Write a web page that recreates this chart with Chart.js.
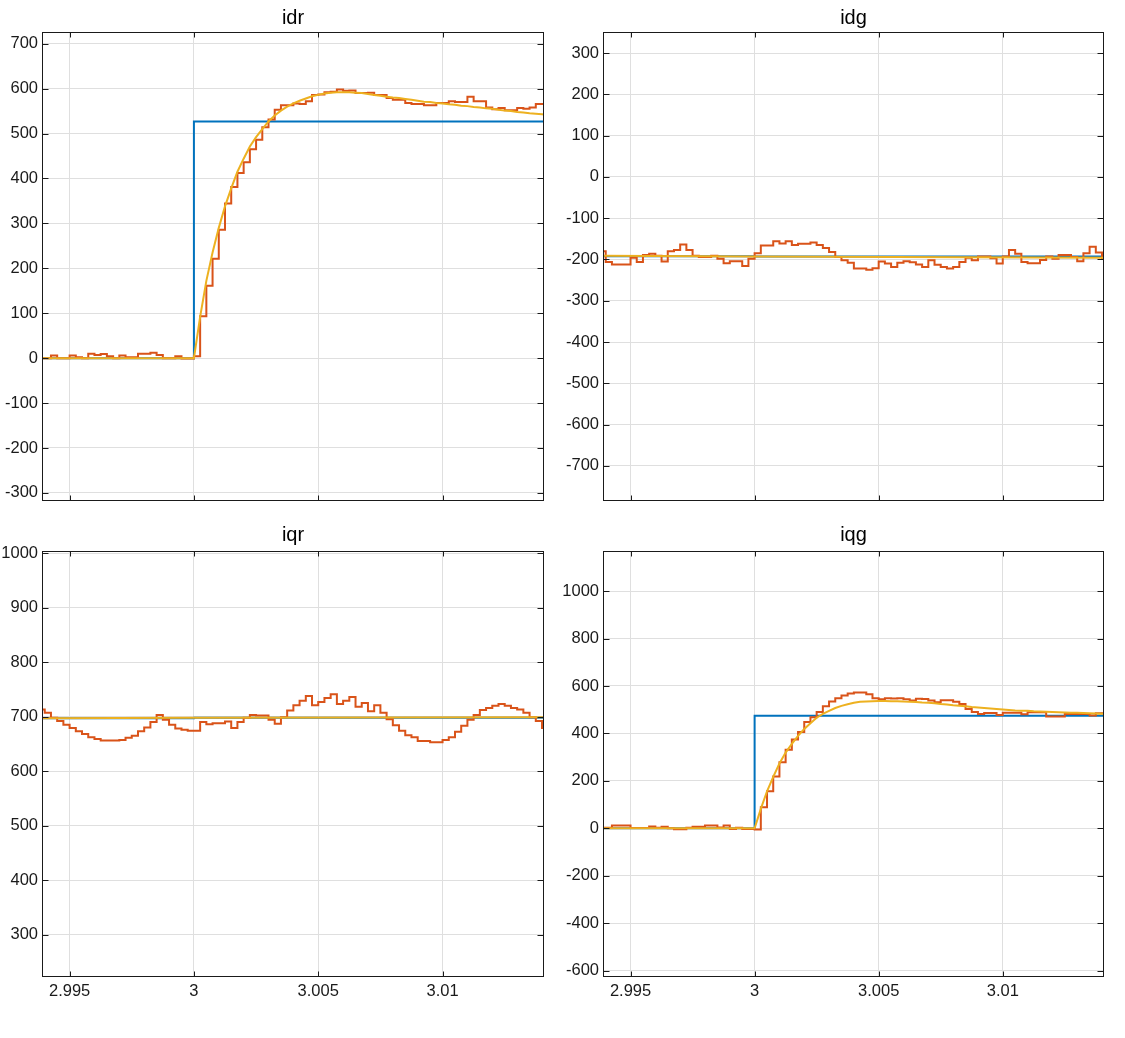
<!DOCTYPE html>
<html>
<head>
<meta charset="utf-8">
<title>idr idg iqr iqg</title>
<script src="https://cdn.jsdelivr.net/npm/chart.js@4.4.1/dist/chart.umd.min.js"></script>
<style>
html, body { margin: 0; padding: 0; background: #fff; }
#wrap { position: relative; width: 1125px; height: 1038px; }
#wrap canvas { position: absolute; }
</style>
</head>
<body>
<div id="wrap">
  <canvas id="c-idr" width="560" height="510" style="left:0;top:0;width:560px;height:510px"></canvas>
  <canvas id="c-idg" width="565" height="510" style="left:560px;top:0;width:565px;height:510px"></canvas>
  <canvas id="c-iqr" width="560" height="528" style="left:0;top:510px;width:560px;height:528px"></canvas>
  <canvas id="c-iqg" width="565" height="528" style="left:560px;top:510px;width:565px;height:528px"></canvas>
</div>
<script>
// sample instants of the measured (stair) signals, s
const tSample = [
  2.99375, 2.994, 2.99425, 2.9945, 2.99475, 2.995, 2.99525, 2.9955, 2.99575, 2.996,
  2.99625, 2.9965, 2.99675, 2.997, 2.99725, 2.9975, 2.99775, 2.998, 2.99825, 2.9985,
  2.99875, 2.999, 2.99925, 2.9995, 2.99975,
  3.0, 3.00025, 3.0005, 3.00075, 3.001, 3.00125, 3.0015, 3.00175, 3.002, 3.00225,
  3.0025, 3.00275, 3.003, 3.00325, 3.0035, 3.00375, 3.004, 3.00425, 3.0045, 3.00475,
  3.005, 3.00525, 3.0055, 3.00575, 3.006, 3.00625, 3.0065, 3.00675, 3.007, 3.00725,
  3.0075, 3.00775, 3.008, 3.00825, 3.0085, 3.00875, 3.009, 3.00925, 3.0095, 3.00975,
  3.01, 3.01025, 3.0105, 3.01075, 3.011, 3.01125, 3.0115, 3.01175, 3.012, 3.01225,
  3.0125, 3.01275, 3.013, 3.01325, 3.0135, 3.01375, 3.014, 3.01425
];
// start, step instant, end (reference lines and flat model lines)
const tEdge = [2.99375, 3.0, 3.01425];

const xMin = 2.99389;
const xMax = 3.01408;
const xTicks = [2.995, 3, 3.005, 3.01];

// idr
const idrRef = [0, 527, 527];
const idrMeas = [
  0, 0, 6, 0, 0, 6, 2, 0, 10, 7, 9, 4, 0, 6, 2, 2, 10, 10, 12, 7, 0, 0, 4, -1, -1,
  4, 93, 161, 221, 286, 344, 381, 412, 436, 465, 486, 514, 531, 553, 563,
  563, 567, 566, 572, 586, 587, 592, 593, 598, 595, 596, 590, 590, 591, 586,
  586, 579, 575, 575, 568, 566, 566, 563, 563, 568, 568, 572, 570, 570, 582,
  572, 572, 558, 554, 557, 552, 552, 557, 555, 558, 566, 566, 566
];
const idrModel = [
  0, 0, 0, 0, 0, 0, 0, 0, 0, 0, 0, 0, 0, 0, 0, 0, 0, 0, 0, 0, 0, 0, 0, 0, 0,
  0, 92, 172, 235, 290, 338, 378, 415, 444, 471, 492, 510, 527, 540, 551,
  560, 567, 573, 578, 583, 586, 589, 591, 592, 592, 592, 591, 590, 588, 586,
  584, 582, 580, 579, 577, 575, 573, 571, 570, 568, 567, 565, 564, 562, 561,
  559, 558, 556, 555, 553, 551, 550, 548, 547, 545, 544, 543, 541
];
const idrTicks = [-300, -200, -100, 0, 100, 200, 300, 400, 500, 600, 700];

// idg
const idgRef = [-192, -193, -193];
const idgMeas = [
  -180, -206, -212, -212, -212, -196, -206, -189, -186, -191, -205, -180, -177, -164, -177,
  -191, -194, -194, -191, -198, -209, -204, -204, -216, -198,
  -185, -166, -166, -156, -161, -156, -165, -162, -162, -159, -165, -172, -182, -194, -202,
  -208, -222, -222, -225, -221, -205, -210, -218, -208, -204, -207, -212, -218, -202, -213,
  -218, -222, -218, -206, -196, -202, -193, -193, -197, -210, -193, -177, -186, -206, -209,
  -209, -201, -193, -198, -189, -189, -194, -204, -185, -169, -183, -198, -198
];
const idgModel = [-191, -193, -196];
const idgTicks = [-700, -600, -500, -400, -300, -200, -100, 0, 100, 200, 300];

// iqr
const iqrRef = [697, 698, 698];
const iqrMeas = [
  713, 707, 698, 692, 685, 679, 673, 668, 662, 659, 656, 656, 656, 657, 661,
  665, 673, 680, 690, 703, 694, 685, 678, 676, 674,
  674, 690, 686, 688, 688, 691, 679, 690, 698, 703, 702, 702, 694, 687, 699,
  711, 721, 729, 738, 721, 727, 734, 741, 723, 729, 736, 718, 725, 710, 721,
  707, 695, 684, 674, 666, 662, 655, 655, 653, 653, 657, 662, 672, 683, 694,
  703, 712, 716, 720, 723, 720, 716, 713, 707, 699, 692, 679, 679
];
const iqrModel = [697, 698, 699];
const iqrTicks = [300, 400, 500, 600, 700, 800, 900, 1000];

// iqg
const iqgRef = [0, 474, 474];
const iqgMeas = [
  2, 2, 12, 12, 12, 1, 1, 1, 8, 2, 6, 0, -4, -4, 2, 6, 6, 12, 12, 3, 12, -3, 2, -3, -3,
  -5, 89, 156, 218, 278, 331, 374, 406, 448, 468, 490, 514, 534, 548, 560,
  568, 572, 572, 565, 548, 544, 548, 547, 548, 544, 539, 546, 545, 539, 531,
  540, 540, 533, 524, 503, 490, 482, 486, 486, 478, 487, 487, 487, 481, 489,
  489, 489, 471, 471, 471, 482, 482, 482, 482, 475, 485, 485, 485
];
const iqgModel = [
  0, 0, 0, 0, 0, 0, 0, 0, 0, 0, 0, 0, 0, 0, 0, 0, 0, 0, 0, 0, 0, 0, 0, 0, 0,
  0, 82, 156, 217, 273, 319, 356, 390, 419, 443, 466, 482, 495, 507, 516,
  523, 529, 533, 535, 536, 537, 537, 536, 536, 534, 533, 532, 530, 529, 527,
  524, 522, 519, 517, 514, 511, 509, 507, 505, 503, 501, 499, 497, 496, 495,
  493, 492, 491, 490, 489, 488, 487, 487, 486, 485, 484, 483, 482
];
const iqgTicks = [-600, -400, -200, 0, 200, 400, 600, 800, 1000];

Chart.defaults.font.family = '"Liberation Sans", Arial, Helvetica, sans-serif';
Chart.defaults.color = '#1a1a1a';

// box around the axes plus inward tick marks on all four sides
const axesBox = {
  id: 'axesBox',
  afterDatasetsDraw(chart) {
    const { ctx, chartArea: a, scales } = chart;
    const L = Math.round(a.left) + 0.5, R = Math.round(a.right) - 0.5;
    const T = Math.round(a.top) + 0.5, B = Math.round(a.bottom) - 0.5;
    ctx.save();
    ctx.strokeStyle = '#1a1a1a';
    ctx.lineWidth = 1;
    ctx.beginPath();
    scales.x.ticks.forEach(t => {
      const px = Math.round(scales.x.getPixelForValue(t.value)) + 0.5;
      ctx.moveTo(px, T); ctx.lineTo(px, T + 5);
      ctx.moveTo(px, B); ctx.lineTo(px, B - 5);
    });
    scales.y.ticks.forEach(t => {
      const py = Math.round(scales.y.getPixelForValue(t.value)) + 0.5;
      ctx.moveTo(L, py); ctx.lineTo(L + 6, py);
      ctx.moveTo(R, py); ctx.lineTo(R - 6, py);
    });
    ctx.stroke();
    ctx.strokeRect(L, T, R - L, B - T);
    ctx.restore();
  }
};

function makePanel(id, p) {
  const pts = (ts, ys) => ts.map((t, i) => ({ x: t, y: ys[i] }));
  return new Chart(document.getElementById(id), {
    type: 'line',
    data: {
      datasets: [
        { data: pts(tEdge, p.ref), borderColor: '#0072BD', borderWidth: 2, stepped: true, order: 3 },
        { data: pts(tSample, p.meas), borderColor: '#D95319', borderWidth: 2, stepped: true, order: 2 },
        { data: pts(p.modelT, p.model), borderColor: '#EDB120', borderWidth: 2, order: 1 }
      ]
    },
    options: {
      responsive: false,
      animation: false,
      events: [],
      layout: { padding: { left: 0, right: p.padRight, top: 0, bottom: 0 } },
      elements: { point: { radius: 0 }, line: { tension: 0, fill: false } },
      plugins: {
        legend: { display: false },
        tooltip: { enabled: false },
        title: {
          display: true, text: p.title, fullSize: false, color: '#000',
          font: { size: 20, weight: 'normal' }, padding: p.titlePad
        }
      },
      scales: {
        x: {
          type: 'linear', min: xMin, max: xMax,
          afterBuildTicks: s => { s.ticks = xTicks.map(v => ({ value: v })); },
          afterFit: s => { s.height = p.xAxisH; s.paddingLeft = 0; s.paddingRight = 0; },
          grid: { color: '#dfdfdf', drawTicks: false },
          border: { display: false },
          ticks: {
            display: p.xLabels, padding: 5, maxRotation: 0, autoSkip: false,
            font: { size: 16.5 }, callback: v => String(v)
          }
        },
        y: {
          type: 'linear', min: p.yMin, max: p.yMax,
          afterBuildTicks: s => { s.ticks = p.yTicks.map(v => ({ value: v })); },
          afterFit: s => { s.width = p.yAxisW; s.paddingTop = 0; s.paddingBottom = 0; },
          grid: { color: '#dfdfdf', drawTicks: false },
          border: { display: false },
          ticks: { padding: 4, autoSkip: false, font: { size: 16.5 }, callback: v => String(v) }
        }
      }
    },
    plugins: [axesBox]
  });
}

makePanel('c-idr', {
  title: 'idr', ref: idrRef, meas: idrMeas, modelT: tSample, model: idrModel,
  yMin: -318, yMax: 726, yTicks: idrTicks, xLabels: false,
  yAxisW: 42, padRight: 16, titlePad: { top: 6, bottom: 2 }, xAxisH: 9
});
makePanel('c-idg', {
  title: 'idg', ref: idgRef, meas: idgMeas, modelT: tEdge, model: idgModel,
  yMin: -785, yMax: 351, yTicks: idgTicks, xLabels: false,
  yAxisW: 43, padRight: 21, titlePad: { top: 6, bottom: 2 }, xAxisH: 9
});
makePanel('c-iqr', {
  title: 'iqr', ref: iqrRef, meas: iqrMeas, modelT: tEdge, model: iqrModel,
  yMin: 222, yMax: 1004, yTicks: iqrTicks, xLabels: true,
  yAxisW: 42, padRight: 16, titlePad: { top: 13.4, bottom: 3.6 }, xAxisH: 61
});
makePanel('c-iqg', {
  title: 'iqg', ref: iqgRef, meas: iqgMeas, modelT: tSample, model: iqgModel,
  yMin: -627, yMax: 1169, yTicks: iqgTicks, xLabels: true,
  yAxisW: 43, padRight: 21, titlePad: { top: 13.4, bottom: 3.6 }, xAxisH: 61
});
</script>
</body>
</html>
